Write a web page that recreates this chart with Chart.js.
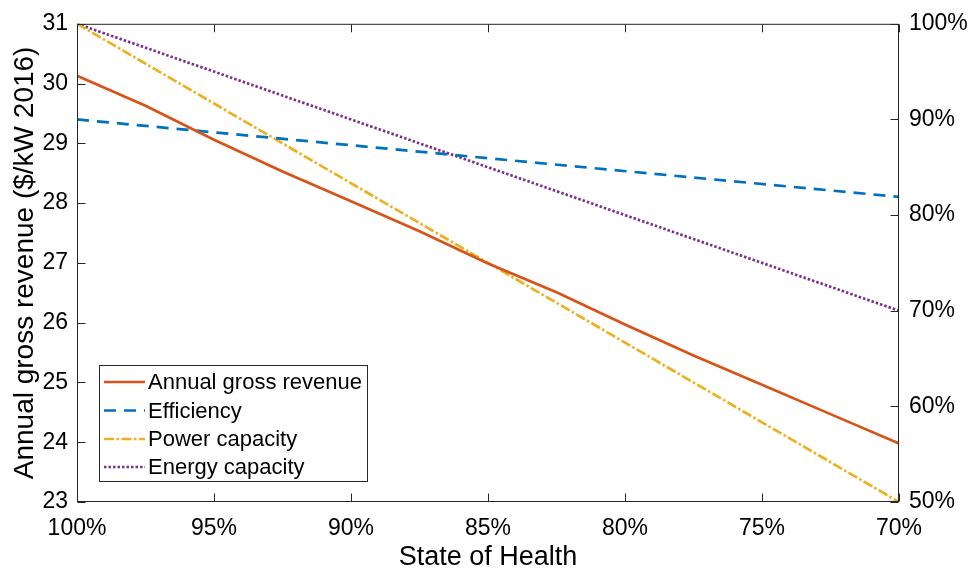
<!DOCTYPE html>
<html><head><meta charset="utf-8">
<script src="https://cdn.jsdelivr.net/npm/chart.js@4"></script>
<style>html,body{margin:0;padding:0;background:#fff;}</style>
</head><body>
<canvas id="c" width="973" height="574"></canvas>
<script>
// ---- data ----
const stateOfHealth = [100, 97.5, 95, 92.5, 90, 87.5, 85, 82.5, 80, 77.5, 75, 72.5, 70];
const annualRevenue = [30.13, 29.63, 29.06, 28.53, 28.03, 27.53, 26.99, 26.51, 25.97, 25.45, 24.96, 24.47, 23.98];
const endpointsSoH = [100, 70];
const efficiencyPct = [90, 81.9];
const powerCapacityPct = [100, 50];
const energyCapacityPct = [100, 70];
const xTickValues = [100, 95, 90, 85, 80, 75, 70];
const leftTickValues = [23, 24, 25, 26, 27, 28, 29, 30, 31];
const rightTickValues = [50, 60, 70, 80, 90, 100];
const seriesLabels = ['Annual gross revenue', 'Efficiency', 'Power capacity', 'Energy capacity'];
const xTitle = 'State of Health';
const yTitle = 'Annual gross revenue ($/kW 2016)';

const pts = (xs, ys) => xs.map((x, i) => ({x, y: ys[i]}));
const FONT = "'Liberation Sans', Arial, Helvetica, sans-serif";
const AXIS = '#262626';

const frameAndLegend = {
  id: 'frameAndLegend',
  afterDraw(chart) {
    const {ctx, chartArea: a, scales} = chart;
    ctx.save();
    ctx.strokeStyle = AXIS;
    ctx.lineWidth = 1;
    ctx.setLineDash([]);
    const L = a.left + 0.5, R = a.right - 0.5, T = a.top + 0.5, B = a.bottom - 0.5;
    ctx.strokeRect(L, T, R - L, B - T);
    const tl = 8;
    ctx.beginPath();
    xTickValues.forEach(v => {
      const px = Math.round(scales.x.getPixelForValue(v)) + 0.5;
      ctx.moveTo(px, B); ctx.lineTo(px, B - tl);
      ctx.moveTo(px, T); ctx.lineTo(px, T + tl);
    });
    leftTickValues.forEach(v => {
      const py = Math.round(scales.y.getPixelForValue(v)) + 0.5;
      ctx.moveTo(L, py); ctx.lineTo(L + tl, py);
    });
    rightTickValues.forEach(v => {
      const py = Math.round(scales.y2.getPixelForValue(v)) + 0.5;
      ctx.moveTo(R, py); ctx.lineTo(R - tl, py);
    });
    ctx.stroke();

    // legend box (inside axes, lower left)
    const bx = 99.5, by = 365.5, bw = 268, bh = 116;
    ctx.fillStyle = '#fff';
    ctx.fillRect(bx, by, bw, bh);
    ctx.strokeStyle = AXIS;
    ctx.lineWidth = 1;
    ctx.strokeRect(bx, by, bw, bh);
    const rowY = [382, 410.5, 439, 467];
    ctx.font = '22px ' + FONT;
    ctx.textBaseline = 'middle';
    ctx.textAlign = 'left';
    chart.data.datasets.forEach((ds, i) => {
      const y = rowY[i];
      ctx.save();
      ctx.strokeStyle = ds.borderColor;
      ctx.lineWidth = ds.borderWidth;
      ctx.setLineDash(ds.borderDash || []);
      ctx.beginPath();
      ctx.moveTo(104, y); ctx.lineTo(145, y);
      ctx.stroke();
      ctx.restore();
      ctx.fillStyle = '#000';
      ctx.fillText(ds.label, 148, y + 1);
    });
    ctx.restore();
  }
};

new Chart(document.getElementById('c'), {
  type: 'line',
  data: {
    datasets: [
      {label: seriesLabels[0], data: pts(stateOfHealth, annualRevenue), yAxisID: 'y',
       borderColor: '#D95319', borderWidth: 2.7, pointRadius: 0, tension: 0},
      {label: seriesLabels[1], data: pts(endpointsSoH, efficiencyPct), yAxisID: 'y2',
       borderColor: '#0072BD', borderWidth: 2.7, borderDash: [12, 8], pointRadius: 0, tension: 0},
      {label: seriesLabels[2], data: pts(endpointsSoH, powerCapacityPct), yAxisID: 'y2',
       borderColor: '#EDB120', borderWidth: 2.7, borderDash: [10, 2.5, 2.5, 2.5], pointRadius: 0, tension: 0},
      {label: seriesLabels[3], data: pts(endpointsSoH, energyCapacityPct), yAxisID: 'y2',
       borderColor: '#7E2F8E', borderWidth: 2.7, borderDash: [2.5, 2], pointRadius: 0, tension: 0}
    ]
  },
  options: {
    responsive: false,
    animation: false,
    devicePixelRatio: 1,
    layout: {padding: {top: 22, left: 0, right: 0, bottom: 0}},
    plugins: {legend: {display: false}, tooltip: {enabled: false}},
    scales: {
      x: {
        type: 'linear', position: 'bottom', min: 70, max: 100, reverse: true,
        afterFit: s => { s.height = 72; },
        afterBuildTicks: s => { s.ticks = xTickValues.map(v => ({value: v})); },
        grid: {display: false, drawTicks: false}, border: {display: false},
        ticks: {font: {size: 23, family: FONT}, color: '#000', padding: 13, maxRotation: 0,
                callback: v => v + '%'},
        title: {display: true, text: xTitle, color: '#000', font: {size: 27, family: FONT},
                padding: {top: 0, bottom: 0}}
      },
      y: {
        type: 'linear', position: 'left', min: 23, max: 31,
        afterFit: s => { s.width = 77; },
        afterBuildTicks: s => { s.ticks = leftTickValues.map(v => ({value: v})); },
        grid: {display: false, drawTicks: false}, border: {display: false},
        ticks: {font: {size: 23, family: FONT}, color: '#000', padding: 9},
        title: {display: true, text: yTitle, color: '#000', font: {size: 28, family: FONT},
                padding: {top: 8, bottom: 0}}
      },
      y2: {
        type: 'linear', position: 'right', min: 50, max: 100,
        afterFit: s => { s.width = 74; },
        afterBuildTicks: s => { s.ticks = rightTickValues.map(v => ({value: v})); },
        grid: {display: false, drawTicks: false}, border: {display: false},
        ticks: {font: {size: 23, family: FONT}, color: '#000', padding: 10,
                callback: v => v + '%'}
      }
    }
  },
  plugins: [frameAndLegend]
});
</script>
</body></html>
